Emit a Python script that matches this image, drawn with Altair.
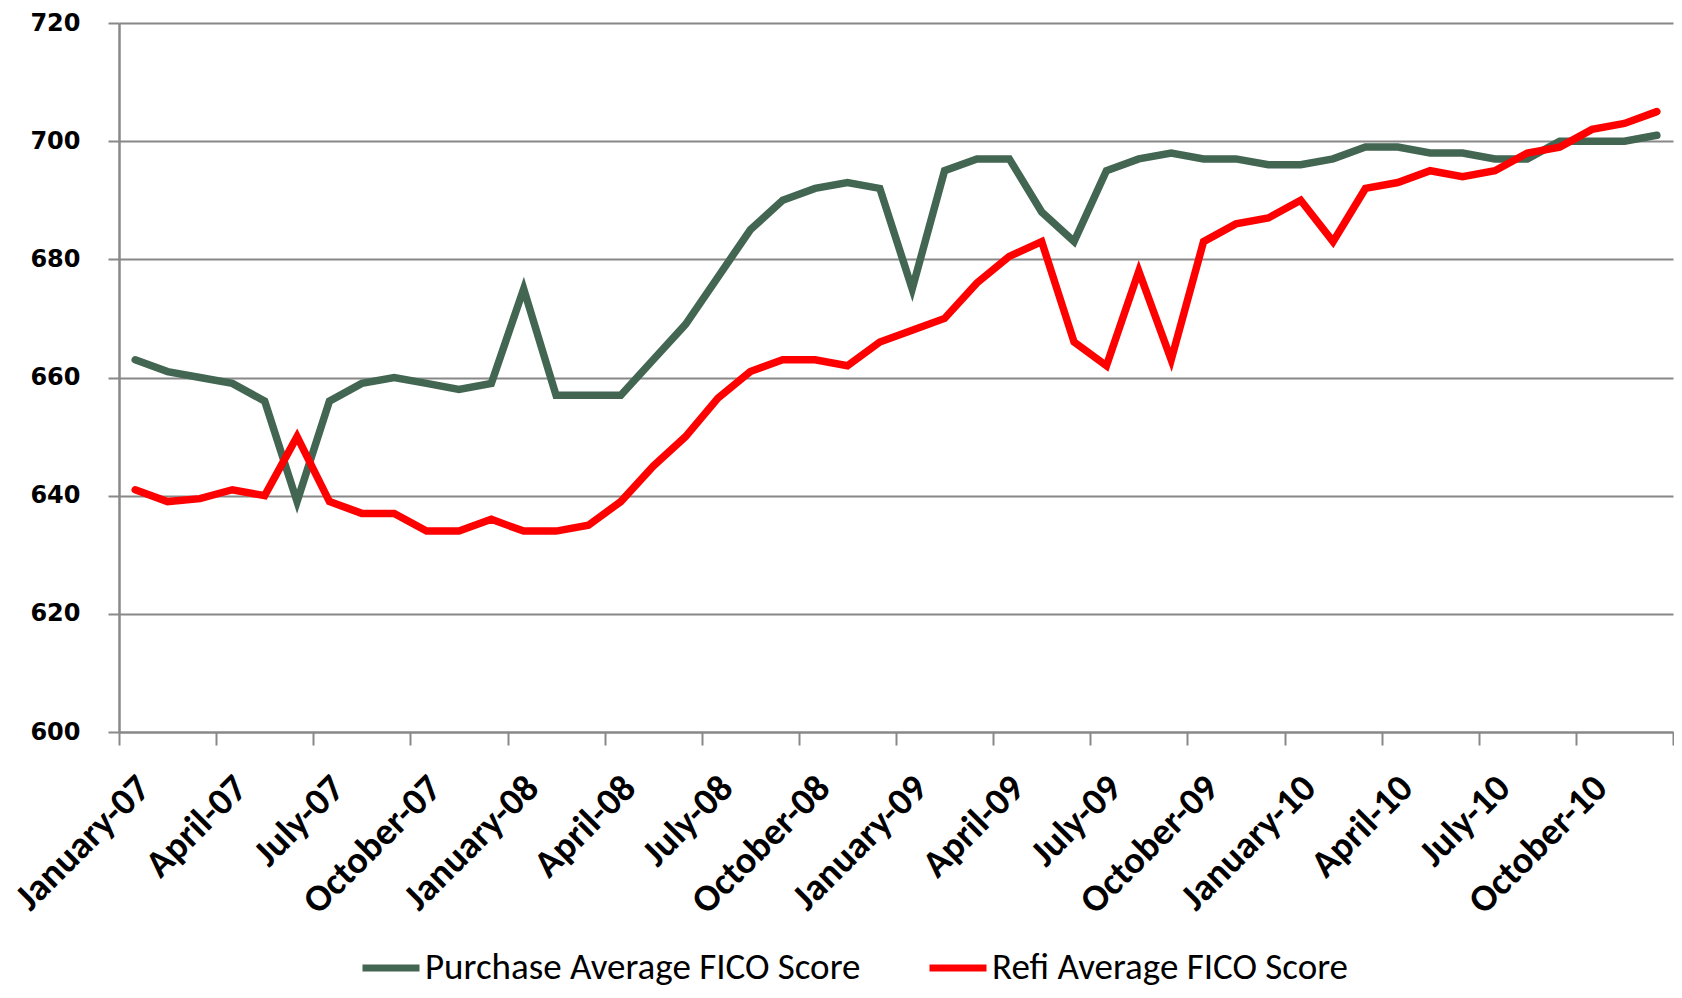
import altair as alt
import pandas as pd

# ---- data ----
month_names = ["January", "February", "March", "April", "May", "June", "July",
               "August", "September", "October", "November", "December"]
years = ["07", "08", "09", "10"]
months = [f"{m}-{y}" for y in years for m in month_names]

purchase = [663, 661, 660, 659, 656, 639, 656, 659, 660, 659, 658, 659,
            675, 657, 657, 657, 663, 669, 677, 685, 690, 692, 693, 692,
            675, 695, 697, 697, 688, 683, 695, 697, 698, 697, 697, 696,
            696, 697, 699, 699, 698, 698, 697, 697, 700, 700, 700, 701]

refi = [641, 639, 639.5, 641, 640, 650, 639, 637, 637, 634, 634, 636,
        634, 634, 635, 639, 645, 650, 656.5, 661, 663, 663, 662, 666,
        668, 670, 676, 680.5, 683, 666, 662, 678, 663, 683, 686, 687,
        690, 683, 692, 693, 695, 694, 695, 698, 699, 702, 703, 705]

tick_labels = ["January-07", "April-07", "July-07", "October-07",
               "January-08", "April-08", "July-08", "October-08",
               "January-09", "April-09", "July-09", "October-09",
               "January-10", "April-10", "July-10", "October-10"]

y_ticks = [600, 620, 640, 660, 680, 700, 720]

series_names = ["Purchase Average FICO Score", "Refi Average FICO Score"]
series_colors = ["#426652", "#ff0000"]

rows = []
for i, m in enumerate(months):
    rows.append({"idx": i, "month": m, "series": series_names[0], "score": purchase[i]})
for i, m in enumerate(months):
    rows.append({"idx": i, "month": m, "series": series_names[1], "score": refi[i]})
df = pd.DataFrame(rows)

# tick marks sit between categories, labels at every third category
tick_vals = [-0.5 + 3 * k for k in range(len(tick_labels) + 1)]
label_expr = ("[" + ",".join(f"'{t}'" for t in tick_labels) +
              "][round((datum.value + 0.5) / 3)] || ''")

GRID = "#888888"
NARROW = "'Liberation Sans Narrow', 'Arial Narrow', 'Carlito', sans-serif"

chart = alt.Chart(df).mark_line(
    strokeWidth=7.5, strokeCap="round", strokeJoin="miter"
).encode(
    x=alt.X("idx:Q",
            scale=alt.Scale(domain=[-0.5, 47.5], nice=False, zero=False),
            axis=alt.Axis(values=tick_vals, labelExpr=label_expr, title=None,
                          grid=False, labelAngle=315, labelAlign="right",
                          labelBaseline="middle", labelOffset=25, labelPadding=37,
                          tickSize=13, tickWidth=2, tickColor=GRID,
                          domainColor=GRID, domainWidth=2,
                          labelFont=NARROW, labelFontWeight="bold",
                          labelFontSize=38, labelColor="#000000",
                          labelOverlap=False, labelFlush=False, labelBound=False)),
    y=alt.Y("score:Q",
            scale=alt.Scale(domain=[600, 720], nice=False, zero=False),
            axis=alt.Axis(values=y_ticks, title=None, grid=True,
                          gridColor=GRID, gridWidth=2,
                          tickSize=11, tickWidth=2, tickColor=GRID,
                          domainColor=GRID, domainWidth=2.5,
                          labelFont="DejaVu Sans", labelFontWeight="bold",
                          labelFontSize=24, labelColor="#000000",
                          labelPadding=28, labelFlush=False, labelOverlap=False)),
    color=alt.Color("series:N",
                    scale=alt.Scale(domain=series_names, range=series_colors),
                    legend=alt.Legend(orient="none", legendX=240, legendY=913,
                                      direction="horizontal", title=None,
                                      symbolType="stroke", symbolSize=3249,
                                      symbolStrokeWidth=7,
                                      labelFont=NARROW, labelFontSize=37,
                                      labelColor="#000000", labelOffset=2,
                                      labelLimit=1000, columnPadding=54,
                                      padding=0)),
).properties(
    width=1554,
    height=709,
    autosize=alt.AutoSizeParams(type="none"),
    padding={"left": 111, "top": 15, "right": 1, "bottom": 258},
).configure_view(stroke=None)

chart.save("out.html", embed_options={"renderer": "svg", "actions": False})
